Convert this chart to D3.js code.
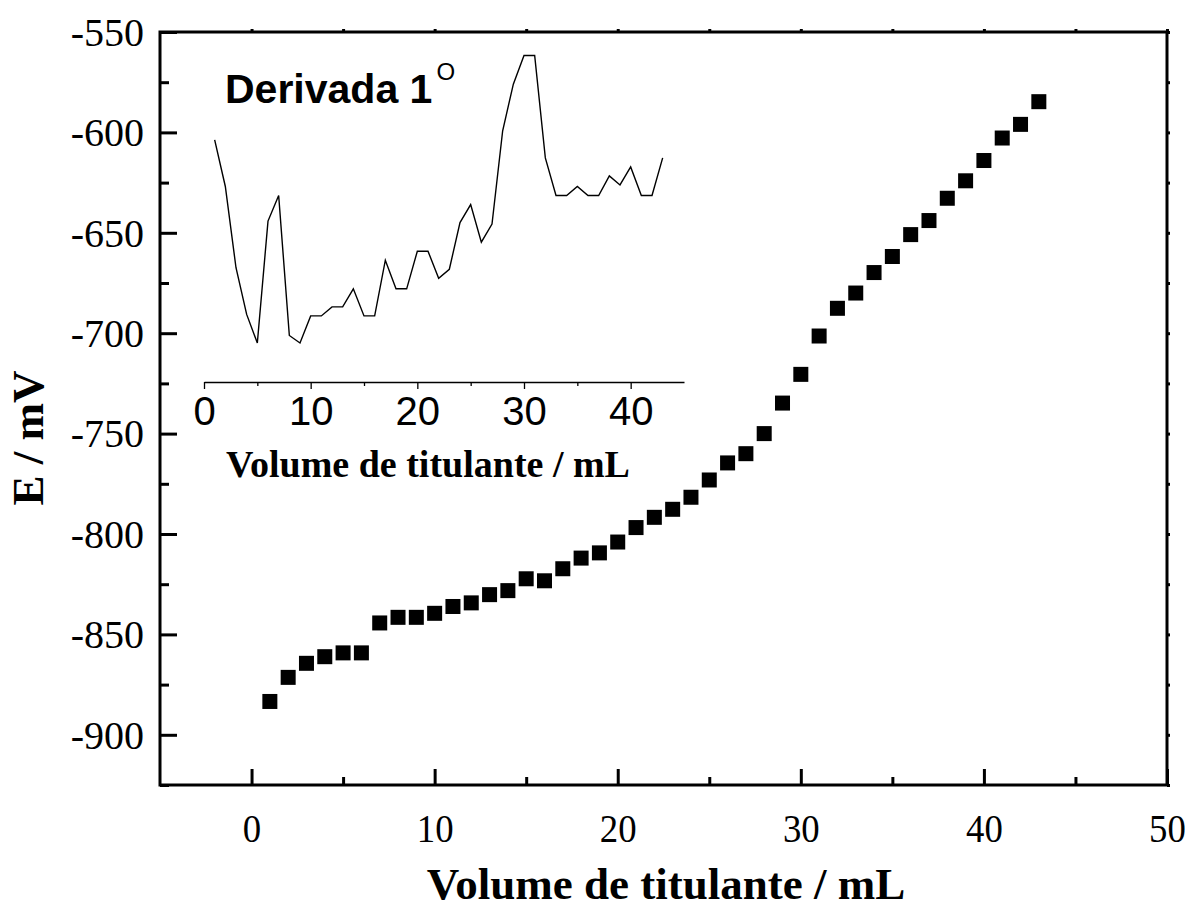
<!DOCTYPE html>
<html>
<head>
<meta charset="utf-8">
<script src="https://cdn.jsdelivr.net/npm/d3@7"></script>
<style>
  html, body { margin: 0; padding: 0; background: #fff; }
  svg { display: block; }
</style>
</head>
<body>
<div id="chart"></div>
<script>
// titration data
const volume = [1,2,3,4,5,6,7,8,9,10,11,12,13,14,15,16,17,18,19,20,21,22,23,24,25,26,27,28,29,30,31,32,33,34,35,36,37,38,39,40,41,42,43];
const potential = [-883.4,-871.4,-864.4,-861.1,-859.2,-859.2,-844.3,-841.5,-841.5,-839.5,-836.1,-834.3,-830.2,-828.2,-822.3,-823.3,-817.3,-812,-809.4,
  -804,-796.8,-791.7,-787.7,-781.7,-773.1,-764.6,-760,-750,-734.8,-720.5,-701.4,-687.6,-680,-669.8,-661.8,-650.9,-643.9,-632.8,-624.1,-614,-602.8,-596,-584.7];

// first derivative (inset), mV/mL
const derivVolume = volume;
const derivative = [13.5,10.4,5.0,1.9,0,8.1,9.8,0.5,0,1.8,1.8,2.4,2.4,3.6,1.8,1.8,5.5,3.6,3.6,6.1,6.1,4.3,4.9,8.0,9.2,6.7,7.9,
  14.1,17.2,19.1,19.1,12.3,9.8,9.8,10.4,9.8,9.8,11.1,10.5,11.7,9.8,9.8,12.3];

const xTicks = [0,10,20,30,40,50];
const xMinor = [5,15,25,35,45];
const yTicks = [-900,-850,-800,-750,-700,-650,-600,-550];
const yMinor = [-925,-875,-825,-775,-725,-675,-625,-575];
const insetTicks = [0,10,20,30,40];
const insetMinor = [5,15,25,35];

const W = 1185, H = 911;
const serif = "'Liberation Serif','Times New Roman',serif";
const sans = "'Liberation Sans',Arial,sans-serif";
const plain = d => String(d); // keep ascii hyphen like the original

const svg = d3.select("#chart").append("svg")
  .attr("width", W).attr("height", H);

const x = d3.scaleLinear().domain([-5, 50]).range([160, 1167]);
const y = d3.scaleLinear().domain([-925, -550]).range([785, 32]);

// ---- main axes (ticks inward)
const gx = svg.append("g").attr("transform", `translate(0,${y(-925)})`)
  .call(d3.axisBottom(x).tickValues(xTicks).tickSizeInner(-16).tickSizeOuter(0).tickFormat(plain));
gx.selectAll("text").attr("y", 57).attr("dy", 0)
  .attr("transform", "scale(0.92,1)")
  .style("font-family", serif).style("font-size", "40px");
svg.append("g").attr("transform", `translate(0,${y(-925)})`)
  .call(d3.axisBottom(x).tickValues(xMinor).tickSizeInner(-8).tickSizeOuter(0).tickFormat(""));

const gy = svg.append("g").attr("transform", `translate(${x(-5)},0)`)
  .call(d3.axisLeft(y).tickValues(yTicks).tickSizeInner(-17).tickSizeOuter(0).tickFormat(plain));
gy.selectAll("text").attr("x", -16).attr("dy", "0.33em")
  .style("font-family", serif).style("font-size", "40px");
svg.append("g").attr("transform", `translate(${x(-5)},0)`)
  .call(d3.axisLeft(y).tickValues(yMinor).tickSizeInner(-9).tickSizeOuter(0).tickFormat(""));

// small ticks on top / right
svg.append("g").attr("transform", `translate(0,${y(-550)})`)
  .call(d3.axisTop(x).tickValues(xTicks.concat(xMinor)).tickSizeInner(3).tickSizeOuter(0).tickFormat(""));
svg.append("g").attr("transform", `translate(${x(50)},0)`)
  .call(d3.axisRight(y).tickValues(yTicks.concat(yMinor)).tickSizeInner(3).tickSizeOuter(0).tickFormat(""));

svg.selectAll(".domain").remove();
svg.selectAll(".tick line").attr("stroke", "#000").attr("stroke-width", 3);

svg.append("rect")
  .attr("x", x(-5)).attr("y", y(-550))
  .attr("width", x(50) - x(-5)).attr("height", y(-925) - y(-550))
  .attr("fill", "none").attr("stroke", "#000").attr("stroke-width", 3);

// ---- squares
const sz = 15;
svg.append("g").selectAll("rect")
  .data(volume.map((v, i) => [v, potential[i]]))
  .join("rect")
  .attr("x", d => x(d[0]) - sz / 2)
  .attr("y", d => y(d[1]) - sz / 2)
  .attr("width", sz).attr("height", sz)
  .attr("fill", "#000");

// ---- axis titles
svg.append("text")
  .attr("x", 666).attr("y", 899)
  .attr("text-anchor", "middle")
  .style("font-family", serif).style("font-weight", "bold").style("font-size", "45px")
  .text("Volume de titulante / mL");

svg.append("text")
  .attr("transform", "translate(43,438) rotate(-90)")
  .attr("text-anchor", "middle")
  .style("font-family", serif).style("font-weight", "bold").style("font-size", "45px")
  .text("E / mV");

// ---- inset: first derivative
const ix = d3.scaleLinear().domain([0, 45]).range([204, 684]);
const iy = d3.scaleLinear().domain([0, 20]).range([343, 42]);
const insetAxisY = 382;

const gi = svg.append("g").attr("transform", `translate(0,${insetAxisY})`)
  .call(d3.axisBottom(ix).tickValues(insetTicks).tickSizeInner(7).tickSizeOuter(0).tickFormat(plain));
gi.select(".domain").attr("stroke", "#000").attr("stroke-width", 1.3);
gi.selectAll(".tick line").attr("stroke", "#000").attr("stroke-width", 1.3);
gi.selectAll("text").attr("y", 43).attr("dy", 0)
  .style("font-family", sans).style("font-size", "40px");
const gim = svg.append("g").attr("transform", `translate(0,${insetAxisY})`)
  .call(d3.axisBottom(ix).tickValues(insetMinor).tickSizeInner(4).tickSizeOuter(0).tickFormat(""));
gim.select(".domain").remove();
gim.selectAll(".tick line").attr("stroke", "#000").attr("stroke-width", 1.3);

svg.append("path")
  .datum(derivVolume.map((v, i) => [v, derivative[i]]))
  .attr("d", d3.line().x(d => ix(d[0])).y(d => iy(d[1])))
  .attr("fill", "none").attr("stroke", "#000").attr("stroke-width", 1.4)
  .attr("stroke-linejoin", "miter");

svg.append("text")
  .attr("x", 428).attr("y", 477)
  .attr("text-anchor", "middle")
  .style("font-family", serif).style("font-weight", "bold").style("font-size", "38px")
  .text("Volume de titulante / mL");

const lbl = svg.append("text")
  .attr("x", 225).attr("y", 103)
  .style("font-family", sans).style("font-weight", "bold").style("font-size", "41px");
lbl.append("tspan").text("Derivada 1");
lbl.append("tspan").attr("dy", -23).attr("dx", 4)
  .style("font-size", "24px").style("font-weight", "normal").text("O");
</script>
</body>
</html>
